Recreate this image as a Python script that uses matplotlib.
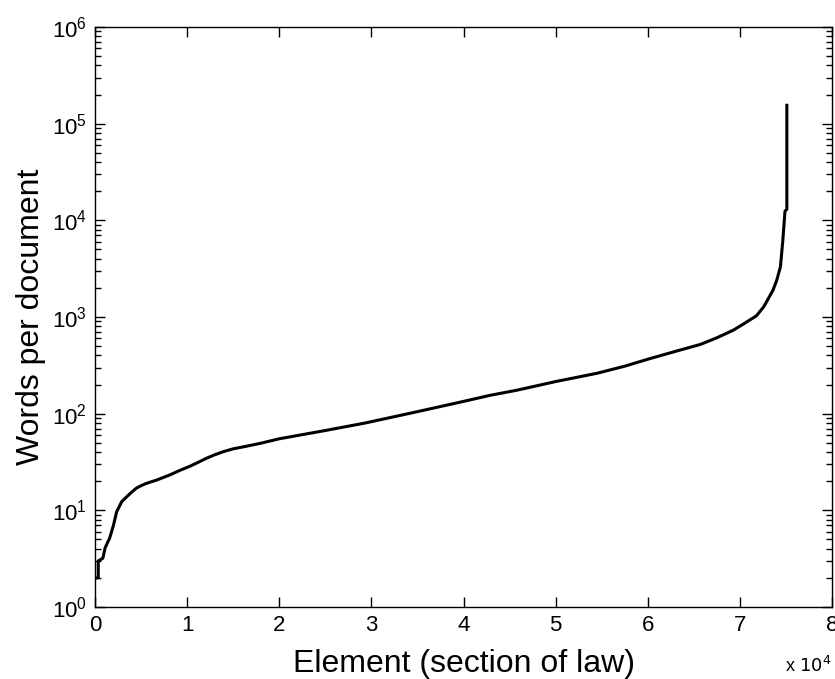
# distribucio de paraules per document, ordenada de menor a major
import numpy as np
import matplotlib.pyplot as plt
from matplotlib.ticker import LogLocator, NullFormatter

plt.rcParams['font.family'] = ['Liberation Sans', 'DejaVu Sans']

# index de l'element (seccio de llei) i paraules per document
element = [0, 350, 350, 850, 1100, 1600, 2000, 2350, 2900, 3500, 4000, 4500,
           5000, 5500, 6000, 6700, 8100, 9200, 10300, 11200, 12100, 13000,
           13900, 15000, 16500, 18000, 20000, 25000, 29300, 35000, 40000,
           42900, 45800, 50000, 54500, 57500, 60300, 63500, 65700, 67500,
           69300, 70500, 71800, 72600, 73600, 74000, 74400, 74650, 74900,
           75100, 75100]
words = [2, 2, 3, 3.2, 4.1, 5.2, 7, 9.7, 12.3, 14, 15.5, 17.0,
         18.0, 18.9, 19.6, 20.6, 23.2, 25.9, 28.6, 31.4, 34.6, 37.6,
         40.4, 43.3, 46.2, 49.5, 55, 67, 80, 105, 134,
         155, 175, 215, 262, 310, 373, 455, 520, 610,
         732, 860, 1030, 1280, 1900, 2400, 3300, 6000, 12500,
         13000, 155000]

xtick_vals = [0, 1e4, 2e4, 3e4, 4e4, 5e4, 6e4, 7e4, 8e4]
xtick_labels = ['0', '1', '2', '3', '4', '5', '6', '7', '8']

fig = plt.figure(figsize=(8.35, 6.79), dpi=100)
ax = fig.add_axes([0.1138, 0.106, 0.8826, 0.8542])

ax.plot(element, words, color='black', linewidth=2.2)

ax.set_yscale('log')
ax.set_xlim(0, 8e4)
ax.set_ylim(1, 1e6)
ax.set_xticks(xtick_vals)
ax.set_xticklabels(xtick_labels)
ax.yaxis.set_major_locator(LogLocator(base=10, numticks=10))
ax.yaxis.set_minor_locator(LogLocator(base=10, subs=np.arange(2, 10), numticks=10))
ax.yaxis.set_minor_formatter(NullFormatter())

ax.tick_params(which='both', direction='in', top=True, right=True,
               width=1.0, labelsize=16, pad=6)
ax.tick_params(which='major', length=7)
ax.tick_params(which='minor', length=4)
ax.tick_params(axis='x', which='minor', bottom=False, top=False)
for s in ax.spines.values():
    s.set_linewidth(1.0)

ax.set_xlabel('Element (section of law)', fontsize=23, labelpad=9)
ax.set_ylabel('Words per document', fontsize=23, labelpad=4)

# factor d'escala de l'eix x, a l'estil de matlab
fig.text(0.996, 0.004, r'x $10^4$', fontsize=13, ha='right', va='bottom')

fig.savefig('out.png', dpi=100)
